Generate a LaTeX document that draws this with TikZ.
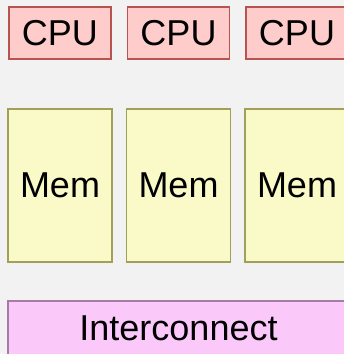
\documentclass[tikz,border=0pt]{standalone}
\usepackage{fontspec}
\setmainfont{Liberation Sans}
\definecolor{bgcol}{HTML}{F2F2F2}
\definecolor{cpufill}{HTML}{FFCCCC}
\definecolor{cpuline}{HTML}{B85450}
\definecolor{memfill}{HTML}{FAFAC8}
\definecolor{memline}{HTML}{A0A05A}
\definecolor{netfill}{HTML}{FBC8FA}
\definecolor{netline}{HTML}{A67BA6}
\begin{document}
\begin{tikzpicture}[x=1pt,y=-1pt, every node/.style={font=\fontsize{36}{40}\selectfont, inner sep=0pt},
  cpubox/.style={draw=cpuline, fill=cpufill, line width=1.3pt, minimum width=102pt, minimum height=52pt},
  membox/.style={draw=memline, fill=memfill, line width=1.3pt, minimum width=104pt, minimum height=153pt},
  netbox/.style={draw=netline, fill=netfill, line width=1.3pt, minimum width=341pt, minimum height=55pt}]
  \fill[bgcol] (0,0) rectangle (344,354);
  \useasboundingbox (0,0) rectangle (344,354);
  \clip (0,0) rectangle (344,354);
  \foreach \i/\x in {1/60,2/178.5,3/297} {
    \node[cpubox] (cpu\i) at (\x,33) {CPU};
    \node[membox] (mem\i) at (\x,185.5) {Mem};
  }
  \node[netbox] (net) at (178.5,328.5) {Interconnect};
\end{tikzpicture}
\end{document}
